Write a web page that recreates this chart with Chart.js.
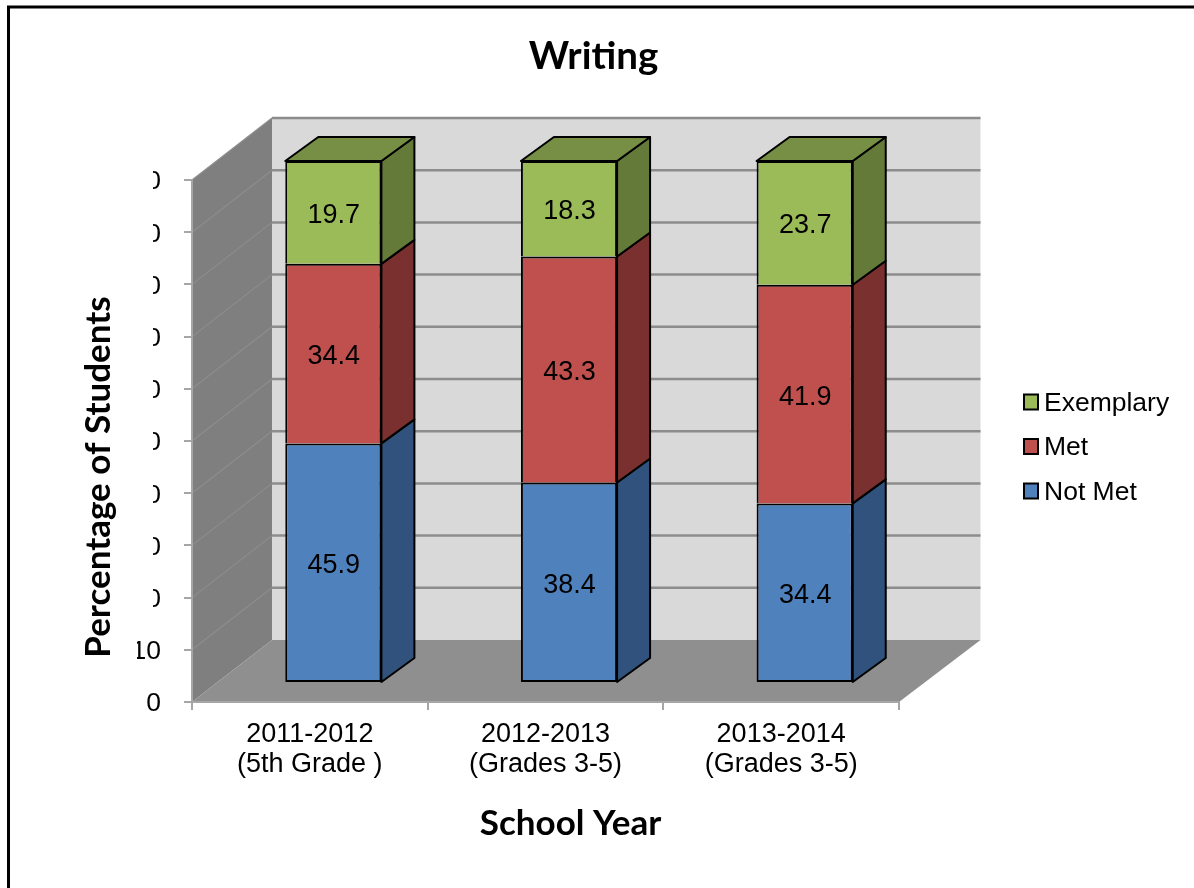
<!DOCTYPE html>
<html>
<head>
<meta charset="utf-8">
<title>Writing</title>
<style>
  html, body { margin: 0; padding: 0; background: #fff; }
  canvas { display: block; }
</style>
<script src="https://cdn.jsdelivr.net/npm/chart.js@4"></script>
</head>
<body>
<canvas id="writingChart" width="1194" height="888"></canvas>
<script>
const categories = [['2011-2012', '(5th Grade )'], ['2012-2013', '(Grades 3-5)'], ['2013-2014', '(Grades 3-5)']];
const notMet = [45.9, 38.4, 34.4];
const met = [34.4, 43.3, 41.9];
const exemplary = [19.7, 18.3, 23.7];

const titleText = 'Writing';
const xTitleText = 'School Year';
const yTitleText = 'Percentage of Students';

// depth of the fake 3D box, in px
const wallDx = 80;
const wallRightDx = 81.5;
const wallDy = -62;
const barDx = 23.5;
const barDy = -19;
const barDepthX = 33;
const barDepthY = -24;

const labelFamily = '"Liberation Sans", Arial, sans-serif';
const headFont = 'bold 35px Lato, sans-serif';

function poly(ctx, pts, fill, stroke, width) {
  ctx.beginPath();
  pts.forEach((p, i) => i ? ctx.lineTo(p[0], p[1]) : ctx.moveTo(p[0], p[1]));
  ctx.closePath();
  ctx.fillStyle = fill;
  ctx.fill();
  if (stroke) {
    ctx.strokeStyle = stroke;
    ctx.lineWidth = width;
    ctx.lineJoin = 'round';
    ctx.stroke();
  }
}

// ── back wall, side wall, floor and their gridlines ──
const wallsPlugin = {
  id: 'walls',
  beforeDraw(chart) {
    const { ctx, chartArea: a, scales: { y } } = chart;
    const backLeft = a.left + wallDx;
    const backRight = a.right + wallRightDx;
    ctx.save();
    poly(ctx, [[backLeft, a.top + wallDy], [backRight, a.top + wallDy], [backRight, a.bottom + wallDy], [backLeft, a.bottom + wallDy]], '#d9d9d9');
    poly(ctx, [[a.left, a.top], [backLeft, a.top + wallDy], [backLeft, a.bottom + wallDy], [a.left, a.bottom]], '#7f7f7f');
    poly(ctx, [[a.left, a.bottom], [backLeft, a.bottom + wallDy], [backRight, a.bottom + wallDy], [a.right, a.bottom]], '#8f8f8f');
    y.ticks.forEach(t => {
      if (t.value === 0) return;
      const py = y.getPixelForValue(t.value);
      ctx.beginPath();
      ctx.moveTo(backLeft, py + wallDy);
      ctx.lineTo(backRight, py + wallDy);
      ctx.strokeStyle = '#8c8c8c';
      ctx.lineWidth = 2.5;
      ctx.stroke();
      ctx.beginPath();
      ctx.moveTo(a.left, py);
      ctx.lineTo(backLeft, py + wallDy);
      ctx.strokeStyle = '#8d8d8d';
      ctx.lineWidth = 1.2;
      ctx.stroke();
    });
    ctx.restore();
  },
};

// ── side and top faces of the bars, front faces come from Chart.js ──
const barBoxPlugin = {
  id: 'barBox',
  beforeDatasetsDraw(chart) {
    const { ctx, data } = chart;
    ctx.save();
    ctx.translate(barDx, barDy);
    data.datasets.forEach((ds, d) => {
      chart.getDatasetMeta(d).data.forEach(bar => {
        const r = bar.x + bar.width / 2;
        const l = bar.x - bar.width / 2;
        poly(ctx, [[r, bar.y], [r + barDepthX, bar.y + barDepthY], [r + barDepthX, bar.base + barDepthY], [r, bar.base]], ds.sideColor, '#000', 2);
        if (d === data.datasets.length - 1) {
          poly(ctx, [[l, bar.y], [l + barDepthX, bar.y + barDepthY], [r + barDepthX, bar.y + barDepthY], [r, bar.y]], ds.topColor, '#000', 2);
        }
      });
    });
    ctx.restore();
  },
  beforeDatasetDraw(chart) {
    chart.ctx.save();
    chart.ctx.translate(barDx, barDy);
  },
  afterDatasetDraw(chart) {
    chart.ctx.restore();
  },
  afterDatasetsDraw(chart) {
    const { ctx, data } = chart;
    ctx.save();
    ctx.font = '27px ' + labelFamily;
    ctx.fillStyle = '#000';
    ctx.textAlign = 'center';
    ctx.textBaseline = 'middle';
    data.datasets.forEach((ds, d) => {
      chart.getDatasetMeta(d).data.forEach((bar, i) => {
        ctx.fillText(ds.data[i].toFixed(1), bar.x + barDx + 0.5, (bar.y + bar.base) / 2 + barDy + 3);
      });
    });
    ctx.restore();
  },
};

// ── page frame, cut-off tick labels, titles and legend ──
const dressingPlugin = {
  id: 'dressing',
  afterDraw(chart) {
    const { ctx, data } = chart;
    ctx.save();

    ctx.beginPath();
    ctx.moveTo(8.5, 888);
    ctx.lineTo(8.5, 7);
    ctx.lineTo(1194, 7);
    ctx.strokeStyle = '#000';
    ctx.lineWidth = 3;
    ctx.stroke();

    // the source image has the y tick labels masked on their left side
    ctx.fillStyle = '#fff';
    ctx.fillRect(100, 165, 53, 455);
    ctx.fillRect(100, 635, 37, 30);

    ctx.fillStyle = '#000';
    ctx.textAlign = 'center';
    ctx.textBaseline = 'middle';
    ctx.font = 'bold 38.5px Lato, sans-serif';
    ctx.fillText(titleText, 593.5, 57);
    ctx.font = headFont;
    ctx.fillText(xTitleText, 570.5, 824);
    ctx.save();
    ctx.translate(99, 477);
    ctx.rotate(-Math.PI / 2);
    ctx.fillText(yTitleText, 0, 0);
    ctx.restore();

    ctx.font = '26.5px ' + labelFamily;
    ctx.textAlign = 'left';
    [...data.datasets].reverse().forEach((ds, i) => {
      const cy = 402 + i * 44.5;
      ctx.fillStyle = ds.backgroundColor;
      ctx.strokeStyle = '#000';
      ctx.lineWidth = 2;
      ctx.fillRect(1024, cy - 7.5, 14, 15);
      ctx.strokeRect(1024, cy - 7.5, 14, 15);
      ctx.fillStyle = '#000';
      ctx.fillText(ds.label, 1044, cy + 1.5);
    });
    ctx.restore();
  },
};

function barSet(label, values, color, sideColor, topColor, bottomBorder) {
  return {
    label,
    data: values,
    backgroundColor: color,
    sideColor,
    topColor,
    borderColor: '#000',
    borderWidth: { top: 2, left: 2, right: 2, bottom: bottomBorder },
    borderSkipped: false,
    barPercentage: 1,
    categoryPercentage: 0.408,
    clip: false,
  };
}

new Chart(document.getElementById('writingChart').getContext('2d'), {
  type: 'bar',
  data: {
    labels: categories,
    datasets: [
      barSet('Not Met', notMet, '#4f81bd', '#30527c', '#3d6491', 2),
      barSet('Met', met, '#c0504d', '#7a302e', '#94403d', 0),
      barSet('Exemplary', exemplary, '#9bbb59', '#647a38', '#768f45', 0),
    ],
  },
  options: {
    responsive: false,
    animation: false,
    layout: { padding: { top: 180, right: 295, bottom: 86, left: 0 } },
    plugins: {
      legend: { display: false },
      title: { display: false },
      tooltip: { enabled: false },
    },
    scales: {
      x: {
        stacked: true,
        afterFit: scale => { scale.height = 100; },
        border: { color: '#a6a6a6', width: 2 },
        grid: { drawOnChartArea: false, color: '#a6a6a6', lineWidth: 2, tickLength: 8 },
        ticks: {
          color: '#000',
          font: { family: labelFamily, size: 27, lineHeight: 1.11 },
          padding: 10,
          maxRotation: 0,
          autoSkip: false,
        },
      },
      y: {
        stacked: true,
        min: 0,
        max: 100,
        afterFit: scale => { scale.width = 192; },
        border: { color: '#a6a6a6', width: 2 },
        grid: { drawOnChartArea: false, color: '#a6a6a6', lineWidth: 2, tickLength: 8 },
        ticks: {
          stepSize: 10,
          color: '#000',
          font: { family: labelFamily, size: 26.5 },
          padding: 23,
          labelOffset: 2,
        },
      },
    },
  },
  plugins: [wallsPlugin, barBoxPlugin, dressingPlugin],
});
</script>
</body>
</html>
